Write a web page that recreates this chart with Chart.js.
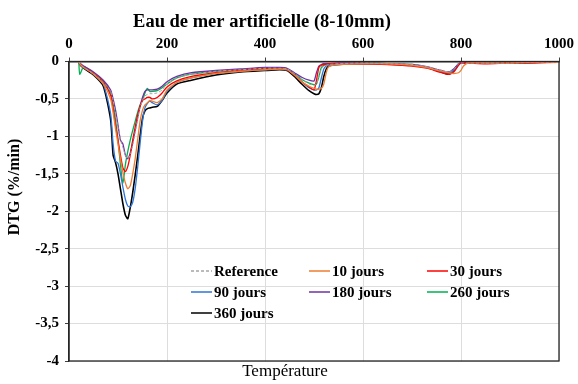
<!DOCTYPE html>
<html>
<head>
<meta charset="utf-8">
<script src="https://cdn.jsdelivr.net/npm/chart.js@4"></script>
<style>
  html, body { margin: 0; padding: 0; background: #fff; }
  #wrap { width: 578px; height: 384px; }
</style>
</head>
<body>
<div id="wrap"><canvas id="graphic" width="578" height="384"></canvas></div>
<script>
const chartTitle = "Eau de mer artificielle (8-10mm)";
const xTitle = "Température";
const yTitle = "DTG (%/min)";

const temps = [20, 22, 30, 50, 70, 85, 90, 95, 100, 105, 110, 115, 120, 125, 130, 135, 140, 145, 150, 155,
  160, 165, 170, 180, 190, 200, 220, 250, 300, 350, 400, 430, 445, 460, 475, 490, 500, 505, 510, 515,
  520, 525, 530, 550, 600, 650, 700, 730, 760, 775, 785, 795, 800, 805, 815, 850, 900, 950, 1000];

const reference = [0, -0.03, -0.08, -0.16, -0.28, -0.4, -0.52, -0.7, -0.88, -1.05, -1.15, -1.25, -1.3, -1.25, -1.12, -0.95, -0.78, -0.62, -0.52, -0.46,
  -0.44, -0.43, -0.43, -0.42, -0.38, -0.3, -0.22, -0.17, -0.13, -0.11, -0.09, -0.09, -0.1, -0.16, -0.24, -0.3, -0.32, -0.3, -0.2, -0.1,
  -0.06, -0.05, -0.04, -0.03, -0.02, -0.03, -0.04, -0.07, -0.12, -0.14, -0.11, -0.03, -0.02, -0.02, -0.02, -0.02, -0.02, -0.01, -0.01];
const jours10 = [0, -0.03, -0.08, -0.17, -0.3, -0.5, -0.68, -0.9, -1.1, -1.3, -1.48, -1.62, -1.7, -1.66, -1.5, -1.3, -1.05, -0.8, -0.65, -0.58,
  -0.55, -0.52, -0.53, -0.55, -0.5, -0.38, -0.28, -0.22, -0.16, -0.13, -0.11, -0.1, -0.11, -0.18, -0.27, -0.33, -0.36, -0.37, -0.37, -0.36,
  -0.3, -0.15, -0.07, -0.04, -0.03, -0.03, -0.05, -0.08, -0.13, -0.15, -0.16, -0.15, -0.12, -0.06, -0.02, -0.02, -0.02, -0.01, -0.01];
const jours30 = [0, -0.03, -0.08, -0.16, -0.28, -0.45, -0.62, -0.85, -1.05, -1.25, -1.42, -1.47, -1.4, -1.25, -1.05, -0.88, -0.72, -0.6, -0.52, -0.5,
  -0.48, -0.48, -0.5, -0.48, -0.42, -0.34, -0.26, -0.2, -0.15, -0.12, -0.1, -0.1, -0.11, -0.18, -0.27, -0.34, -0.38, -0.25, -0.08, -0.05,
  -0.04, -0.04, -0.03, -0.03, -0.03, -0.04, -0.06, -0.09, -0.15, -0.17, -0.14, -0.05, -0.02, -0.02, -0.02, -0.03, -0.02, -0.02, -0.01];
const jours90 = [0, -0.03, -0.08, -0.17, -0.3, -0.7, -1.1, -1.33, -1.36, -1.5, -1.68, -1.84, -1.93, -1.94, -1.88, -1.7, -1.42, -1.1, -0.8, -0.62,
  -0.56, -0.53, -0.55, -0.58, -0.52, -0.4, -0.28, -0.22, -0.16, -0.13, -0.11, -0.1, -0.11, -0.18, -0.27, -0.35, -0.38, -0.38, -0.35, -0.22,
  -0.1, -0.06, -0.05, -0.04, -0.03, -0.03, -0.05, -0.08, -0.14, -0.16, -0.12, -0.04, -0.02, -0.02, -0.02, -0.02, -0.02, -0.01, -0.01];
const jours180 = [0, -0.02, -0.06, -0.14, -0.25, -0.38, -0.5, -0.65, -0.85, -1.05, -1.1, -1.25, -1.3, -1.22, -1.08, -0.92, -0.75, -0.6, -0.48, -0.4,
  -0.38, -0.38, -0.38, -0.37, -0.33, -0.27, -0.2, -0.15, -0.12, -0.1, -0.08, -0.08, -0.09, -0.15, -0.21, -0.25, -0.26, -0.15, -0.06, -0.04,
  -0.03, -0.03, -0.03, -0.02, -0.02, -0.03, -0.04, -0.07, -0.12, -0.14, -0.1, -0.03, -0.02, -0.02, -0.02, -0.02, -0.02, -0.01, -0.01];
const jours260 = [0, -0.17, -0.07, -0.15, -0.26, -0.42, -0.55, -0.78, -1.05, -1.38, -1.63, -1.38, -1.2, -1.05, -0.92, -0.8, -0.68, -0.58, -0.52, -0.42,
  -0.36, -0.4, -0.4, -0.39, -0.35, -0.3, -0.22, -0.17, -0.13, -0.11, -0.09, -0.09, -0.1, -0.16, -0.24, -0.29, -0.31, -0.3, -0.2, -0.08,
  -0.05, -0.04, -0.04, -0.03, -0.02, -0.03, -0.04, -0.08, -0.13, -0.15, -0.11, -0.03, -0.02, -0.02, -0.02, -0.02, -0.02, -0.01, -0.01];
const jours360 = [0, -0.04, -0.09, -0.18, -0.33, -0.78, -1.25, -1.35, -1.5, -1.7, -1.9, -2.05, -2.1, -1.95, -1.75, -1.52, -1.27, -1.0, -0.76, -0.66,
  -0.63, -0.62, -0.61, -0.6, -0.52, -0.42, -0.3, -0.25, -0.18, -0.14, -0.12, -0.11, -0.12, -0.2, -0.3, -0.39, -0.43, -0.44, -0.43, -0.35,
  -0.2, -0.1, -0.06, -0.04, -0.03, -0.03, -0.05, -0.08, -0.14, -0.17, -0.13, -0.04, -0.02, -0.02, -0.02, -0.02, -0.02, -0.01, -0.01];

const seriesNames = ["Reference", "10 jours", "30 jours", "90 jours", "180 jours", "260 jours", "360 jours"];
const seriesValues = [reference, jours10, jours30, jours90, jours180, jours260, jours360];
const seriesColors = ["#A5A5A5", "#ED7D31", "#FF0000", "#2E75D6", "#7030A0", "#00B050", "#000000"];

const serifFont = "'Liberation Serif', serif";

function toPoints(values) {
  return temps.map((t, i) => ({ x: t, y: values[i] }));
}

const datasets = seriesNames.map((name, i) => ({
  label: name,
  data: toPoints(seriesValues[i]),
  borderColor: seriesColors[i],
  borderWidth: i === 0 ? 1 : (i === 6 ? 1.6 : 1.3),
  borderDash: i === 0 ? [3, 2] : [],
  pointRadius: 0,
  showLine: true,
  tension: 0.2,
  fill: false
}));

// legend, titles and box drawn by hand (legend sits inside the plot)
const decorations = {
  id: "decorations",
  afterDraw(chart) {
    const ctx = chart.ctx;
    const a = chart.chartArea;
    ctx.save();
    ctx.strokeStyle = "#262626";
    ctx.lineWidth = 1.3;
    ctx.strokeRect(a.left, a.top, a.right - a.left, a.bottom - a.top);

    ctx.fillStyle = "#000";
    ctx.textAlign = "center";
    ctx.textBaseline = "middle";
    ctx.font = "bold 18.5px " + serifFont;
    ctx.fillText(chartTitle, 262, 22);
    ctx.font = "17px " + serifFont;
    ctx.fillText(xTitle, 285, 372);
    ctx.save();
    ctx.translate(15, 187);
    ctx.rotate(-Math.PI / 2);
    ctx.font = "bold 16px " + serifFont;
    ctx.fillText(yTitle, 0, 0);
    ctx.restore();

    const cols = [191, 309, 427];
    const rows = [271, 292, 313];
    ctx.font = "bold 15px " + serifFont;
    ctx.textAlign = "left";
    chart.data.datasets.forEach((ds, i) => {
      const x = cols[i % 3];
      const y = rows[Math.floor(i / 3)];
      ctx.strokeStyle = ds.borderColor;
      ctx.lineWidth = 1.5;
      ctx.setLineDash(ds.borderDash);
      ctx.beginPath();
      ctx.moveTo(x, y);
      ctx.lineTo(x + 21, y);
      ctx.stroke();
      ctx.setLineDash([]);
      ctx.fillStyle = "#000";
      ctx.fillText(ds.label, x + 23, y + 1);
    });
    ctx.restore();
  }
};

const ctx = document.getElementById("graphic").getContext("2d");
new Chart(ctx, {
  type: "scatter",
  data: { datasets: datasets },
  plugins: [decorations],
  options: {
    responsive: false,
    animation: false,
    layout: { padding: { top: 0, right: 19, bottom: 23, left: 0 } },
    plugins: {
      legend: { display: false },
      title: { display: false },
      tooltip: { enabled: false }
    },
    scales: {
      x: {
        type: "linear",
        position: "top",
        min: 0,
        max: 1000,
        afterFit: axis => { axis.height = 61.5; },
        ticks: {
          stepSize: 200,
          padding: 4,
          color: "#000",
          font: { family: serifFont, size: 15, weight: "bold" },
          callback: v => String(v)
        },
        grid: { color: "#DDDDDD", tickColor: "#404040", tickLength: 4 },
        border: { color: "#404040", width: 1.5 }
      },
      y: {
        min: -4,
        max: 0,
        afterFit: axis => { axis.width = 69; },
        ticks: {
          stepSize: 0.5,
          padding: 6,
          color: "#000",
          font: { family: serifFont, size: 15, weight: "bold" },
          callback: v => String(v).replace(".", ",")
        },
        grid: { color: "#DDDDDD", tickColor: "#404040", tickLength: 4 },
        border: { color: "#262626", width: 1.3 }
      }
    }
  }
});
</script>
</body>
</html>
